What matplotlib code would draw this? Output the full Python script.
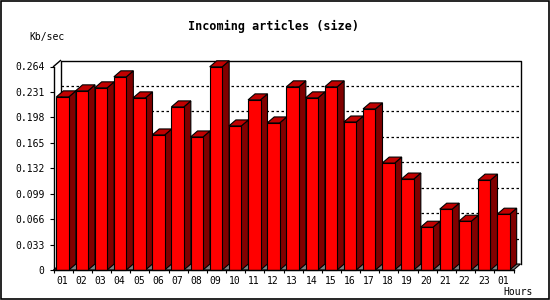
"""Incoming articles (size) - 3D-look bar chart redrawn with matplotlib."""
import matplotlib
matplotlib.use("Agg")
import matplotlib.pyplot as plt
from matplotlib.patches import Polygon, Rectangle

hours = ["01", "02", "03", "04", "05", "06", "07", "08", "09", "10", "11", "12",
         "13", "14", "15", "16", "17", "18", "19", "20", "21", "22", "23", "01"]
kb_per_sec = [0.2246, 0.2324, 0.2363, 0.2506, 0.2233, 0.1752, 0.2116, 0.1726,
              0.2636, 0.1869, 0.2207, 0.1908, 0.2376, 0.2233, 0.2376, 0.1920,
              0.2090, 0.1387, 0.1180, 0.0555, 0.0789, 0.0633, 0.1166, 0.0724]
y_ticks = [0, 0.033, 0.066, 0.099, 0.132, 0.165, 0.198, 0.231, 0.264]
y_tick_labels = ["0", "0.033", "0.066", "0.099", "0.132", "0.165", "0.198", "0.231", "0.264"]

FONT = "DejaVu Sans Mono"
W, H = 550, 300
fig = plt.figure(figsize=(W / 100, H / 100), dpi=100)
fig.patch.set_facecolor("white")

# front plane of the plot, in pixels
x0, x1, y0, y1 = 53.5, 513.5, 270, 66.5
ax = fig.add_axes([x0 / W, 1 - y0 / H, (x1 - x0) / W, (y0 - y1) / H])
n = len(kb_per_sec)
ymax = y_ticks[-1]
ax.set_xlim(0, n)
ax.set_ylim(0, ymax)

# depth of the fake 3D (7px right, 6px up) in data units
dx = 7 / ((x1 - x0) / n)
dy = 6 / ((y0 - y1) / ymax)

# floor and back wall
ax.add_patch(Polygon([(0, 0), (n, 0), (n + dx, dy), (dx, dy)], closed=True,
                     facecolor="#808080", edgecolor="black", lw=0.8, clip_on=False, zorder=1))
for v in y_ticks[1:-1]:
    ax.plot([dx, n + dx], [v + dy, v + dy], color="black", lw=0.9,
            dashes=(2, 2), clip_on=False, zorder=1)
ax.plot([dx, dx, n + dx, n + dx], [dy, ymax + dy, ymax + dy, dy],
        color="black", lw=1, clip_on=False, zorder=1)
ax.plot([0, dx], [ymax, ymax + dy], color="black", lw=1, clip_on=False, zorder=1)

# bars: front face, dark side, top
a, b = 0.15, 0.80
for i, v in enumerate(kb_per_sec):
    z = 2 + i * 0.01
    ax.add_patch(Polygon([(i + b, 0), (i + b + dx, dy), (i + b + dx, v + dy), (i + b, v)],
                         closed=True, facecolor="#800000", edgecolor="black", lw=0.8,
                         clip_on=False, zorder=z))
    ax.add_patch(Polygon([(i + a, v), (i + b, v), (i + b + dx, v + dy), (i + a + dx, v + dy)],
                         closed=True, facecolor="#c00000", edgecolor="black", lw=0.8,
                         clip_on=False, zorder=z))
    ax.add_patch(Rectangle((i + a, 0), b - a, v, facecolor="#ff0000", edgecolor="black",
                           lw=0.8, clip_on=False, zorder=z + 0.001))

for s in ["top", "right"]:
    ax.spines[s].set_visible(False)
for s in ["left", "bottom"]:
    ax.spines[s].set_linewidth(1)
    ax.spines[s].set_zorder(5)

ax.set_yticks(y_ticks)
ax.set_yticklabels(y_tick_labels, fontfamily=FONT, fontsize=7)
ax.tick_params(axis="y", length=3, width=0.8, pad=3.5)

ax.set_xticks(range(n + 1))
ax.set_xticklabels([])
ax.tick_params(axis="x", which="major", length=2.5, width=0.8)
ax.set_xticks([i + 0.45 for i in range(n)], minor=True)
ax.set_xticklabels(hours, minor=True, fontfamily=FONT, fontsize=7)
ax.tick_params(axis="x", which="minor", length=0, pad=4)

fig.text(273.7 / W, 1 - 26.7 / H, "Incoming articles (size)", ha="center", va="center",
         fontfamily=FONT, fontweight="bold", fontsize=8.5)
fig.text(47 / W, 1 - 37 / H, "Kb/sec", ha="center", va="center", fontfamily=FONT, fontsize=7)
fig.text(533 / W, 1 - 292 / H, "Hours", ha="right", va="center", fontfamily=FONT, fontsize=7)

fig.add_artist(Rectangle((0.001, 0.002), 0.997, 0.995, transform=fig.transFigure,
                         fill=False, edgecolor="black", lw=1.2))

fig.savefig("out.png", dpi=100)
